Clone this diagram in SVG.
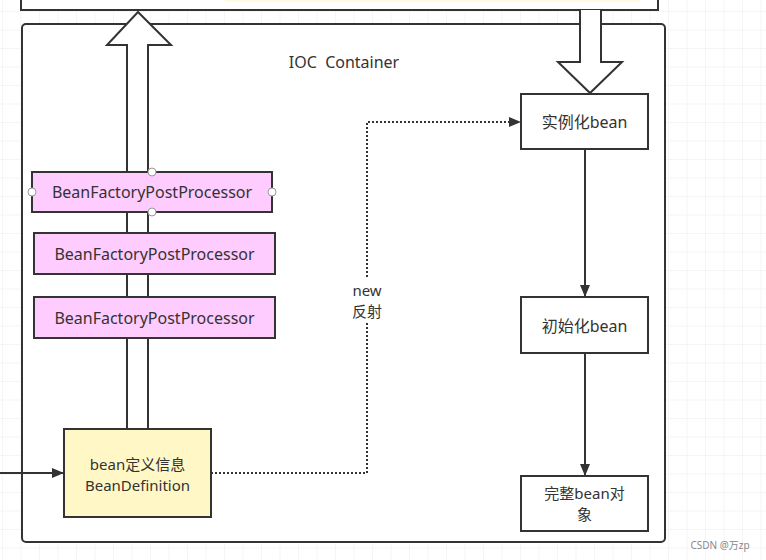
<svg xmlns="http://www.w3.org/2000/svg" width="766" height="560" viewBox="0 0 766 560">
<defs>
<pattern id="grid" width="18.5" height="18.5" patternUnits="userSpaceOnUse" x="3" y="12">
<path d="M18.5 0 V18.5 M0 18.5 H18.5" fill="none" stroke="#ebebeb" stroke-width="1"/>
</pattern>
<marker id="arr" viewBox="0 0 12 10" refX="12" refY="5" markerWidth="12" markerHeight="10" markerUnits="userSpaceOnUse" orient="auto">
<path d="M0 0 L12 5 L0 10 Z" fill="#333"/>
</marker>
<style>
.box{stroke:#333;stroke-width:2}
.plain{fill:#fff}
.pink{fill:#ffccff}
.yellow{fill:#fff8c6}
.t{font-family:"Noto Sans","Noto Sans CJK SC",sans-serif;font-size:16px;fill:#333;text-anchor:middle;dominant-baseline:central;white-space:pre}
.t2{font-size:15px}
.line{stroke:#333;stroke-width:2;fill:none}
.dot{stroke:#333;stroke-width:2;fill:none;stroke-dasharray:2 2}
.hollow{fill:#fff;stroke:#333;stroke-width:2;stroke-linejoin:miter}
.handle{fill:#fff;stroke:#999;stroke-width:1}
</style>
</defs>
<rect width="766" height="560" fill="#fff"/>
<rect width="766" height="560" fill="url(#grid)"/>

<g id="top-box">
<rect x="21" y="-20" width="637" height="30" class="box plain"/>
<rect x="225" y="-5" width="415" height="7" fill="#fffbe0"/>
</g>

<g id="ioc-container">
<rect x="22" y="24" width="643" height="518" rx="4" class="box plain"/>
<text x="344" y="62" class="t" xml:space="preserve">IOC  Container</text>
</g>

<g id="connectors">
<path d="M127 429 V45 H107 L138 12 L171 45 H148 V429" class="hollow"/>
<path d="M580 10 V62 H558 L590 93 L622 62 H601 V10" class="hollow"/>
<path d="M0 473 H64" class="line" marker-end="url(#arr)"/>
<path d="M211 473 H367 V122 H521" class="dot" marker-end="url(#arr)"/>
<rect x="346" y="277" width="44" height="46" fill="#fff"/>
<text x="367" y="289.5" class="t t2">new</text>
<text x="367" y="310.5" class="t t2">反射</text>
<path d="M585 149 V297" class="line" marker-end="url(#arr)"/>
<path d="M585 353 V476" class="line" marker-end="url(#arr)"/>
</g>

<g id="bfpp1">
<rect x="32" y="172" width="240" height="40" class="box pink"/>
<text x="152" y="192" class="t">BeanFactoryPostProcessor</text>
<circle cx="152" cy="172" r="4" class="handle"/>
<circle cx="152" cy="212" r="4" class="handle"/>
<circle cx="32" cy="192" r="4" class="handle"/>
<circle cx="272" cy="192" r="4" class="handle"/>
</g>
<g id="bfpp2">
<rect x="34" y="233" width="241" height="41" class="box pink"/>
<text x="154.5" y="254" class="t">BeanFactoryPostProcessor</text>
</g>
<g id="bfpp3">
<rect x="34" y="297" width="241" height="41" class="box pink"/>
<text x="154.5" y="318" class="t">BeanFactoryPostProcessor</text>
</g>

<g id="bean-definition">
<rect x="64" y="429" width="147" height="88" class="box yellow"/>
<text x="137.5" y="464" class="t t2">bean定义信息</text>
<text x="137.5" y="485" class="t t2">BeanDefinition</text>
</g>

<g id="instantiate">
<rect x="521" y="94" width="127" height="55" class="box plain"/>
<text x="584.5" y="122" class="t">实例化bean</text>
</g>
<g id="initialize">
<rect x="521" y="297" width="127" height="56" class="box plain"/>
<text x="584.5" y="326" class="t">初始化bean</text>
</g>
<g id="complete">
<rect x="521" y="476" width="127" height="55" class="box plain"/>
<text x="584.5" y="493" class="t t2">完整bean对</text>
<text x="584.5" y="514" class="t t2">象</text>
</g>

<text x="720" y="545" font-family="'Noto Sans','Noto Sans CJK SC',sans-serif" font-size="10" fill="#888" text-anchor="middle" dominant-baseline="central">CSDN @万zp</text>
</svg>
